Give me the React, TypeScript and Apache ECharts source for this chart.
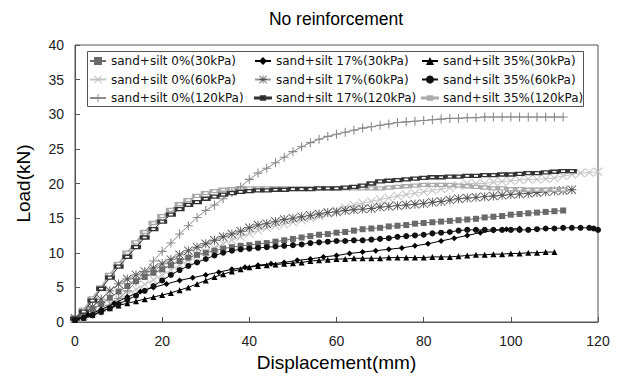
import React, { useEffect, useRef } from "react";
import * as echarts from "echarts";

type P = [number, number];

const seriesNames = [
  "sand+silt 0%(30kPa)",
  "sand+silt 17%(30kPa)",
  "sand+silt 35%(30kPa)",
  "sand+silt 0%(60kPa)",
  "sand+silt 17%(60kPa)",
  "sand+silt 35%(60kPa)",
  "sand+silt 0%(120kPa)",
  "sand+silt 17%(120kPa)",
  "sand+silt 35%(120kPa)",
];

const xTicks = [0, 20, 40, 60, 80, 100, 120];
const yTicks = [0, 5, 10, 15, 20, 25, 30, 35, 40];

const sand0_30: P[] = [[0,0.5],[2,1.0],[4,1.8],[6,2.6],[8,3.5],[10,4.4],[12,5.2],[14,5.9],[16,6.5],[18,7.1],[20,7.6],[22,8.2],[24,8.8],[26,9.3],[28,9.7],[30,10.0],[32,10.3],[34,10.6],[36,10.8],[38,11.0],[40,11.1],[42,11.3],[44,11.4],[46,11.6],[48,11.8],[50,12.0],[52,12.2],[54,12.4],[56,12.6],[58,12.7],[60,12.9],[62,13.0],[64,13.2],[66,13.4],[68,13.5],[70,13.6],[72,13.8],[74,13.9],[76,14.0],[78,14.2],[80,14.3],[82,14.4],[84,14.5],[86,14.6],[88,14.7],[90,14.8],[92,14.9],[94,15.1],[96,15.2],[98,15.3],[100,15.5],[102,15.6],[104,15.7],[106,15.8],[108,15.9],[110,16.0],[112,16.1]];

const sand17_30: P[] = [[0,0.3],[3,1.0],[6,1.8],[9,2.7],[12,3.6],[15,4.4],[18,5.0],[21,5.5],[24,6.0],[27,6.4],[30,6.8],[33,7.2],[36,7.6],[39,7.9],[42,8.2],[45,8.4],[48,8.6],[51,8.9],[54,9.1],[57,9.4],[60,9.6],[63,9.9],[66,10.1],[69,10.3],[72,10.5],[75,10.7],[78,11.0],[81,11.3],[84,11.7],[87,12.1],[90,12.5],[93,12.9],[96,13.2],[99,13.4],[102,13.5]];

const sand35_30: P[] = [[0,0.3],[2,0.6],[4,1.0],[6,1.5],[8,2.0],[10,2.4],[12,2.7],[14,3.0],[16,3.3],[18,3.6],[20,3.9],[22,4.2],[24,4.6],[26,5.0],[28,5.5],[30,6.0],[32,6.5],[34,6.9],[36,7.3],[38,7.6],[40,7.9],[42,8.1],[44,8.2],[46,8.3],[48,8.4],[50,8.5],[52,8.6],[54,8.8],[56,8.9],[58,9.0],[60,9.1],[62,9.1],[64,9.2],[66,9.2],[68,9.2],[70,9.2],[72,9.3],[74,9.3],[76,9.3],[78,9.3],[80,9.3],[82,9.4],[84,9.4],[86,9.4],[88,9.5],[90,9.6],[92,9.7],[94,9.7],[96,9.8],[98,9.8],[100,9.9],[102,9.9],[104,10.0],[106,10.0],[108,10.1],[110,10.1]];

const sand0_60: P[] = [[0,0.5],[2,0.9],[4,1.4],[6,2.0],[8,2.6],[10,3.3],[12,4.0],[14,4.7],[16,5.4],[18,6.1],[20,6.8],[22,7.5],[24,8.2],[26,8.9],[28,9.5],[30,10.1],[32,10.7],[34,11.3],[36,11.8],[38,12.3],[40,12.8],[42,13.2],[44,13.6],[46,13.9],[48,14.1],[50,14.4],[52,14.7],[54,15.0],[56,15.3],[58,15.7],[60,16.1],[62,16.5],[64,16.9],[66,17.2],[68,17.4],[70,17.7],[72,17.9],[74,18.2],[76,18.4],[78,18.6],[80,18.8],[82,19.0],[84,19.2],[86,19.4],[88,19.7],[90,20.0],[92,20.0],[94,20.0],[96,20.2],[98,20.3],[100,20.4],[102,20.5],[104,20.6],[106,20.6],[108,20.7],[110,20.8],[112,21.1],[114,21.3],[116,21.5],[118,21.6],[120,21.7]];

const sand17_60: P[] = [[0,0.5],[2,1.3],[4,2.2],[6,3.3],[8,4.5],[10,5.5],[12,6.2],[14,6.8],[16,7.3],[18,7.8],[20,8.4],[22,9.0],[24,9.7],[26,10.3],[28,10.8],[30,11.3],[32,11.8],[34,12.3],[36,12.7],[38,13.1],[40,13.6],[42,14.0],[44,14.2],[46,14.5],[48,14.8],[50,15.0],[52,15.2],[54,15.4],[56,15.6],[58,15.8],[60,15.9],[62,16.1],[64,16.2],[66,16.3],[68,16.4],[70,16.6],[72,16.7],[74,16.8],[76,16.9],[78,17.0],[80,17.1],[82,17.3],[84,17.4],[86,17.6],[88,17.8],[90,17.9],[92,18.0],[94,18.1],[96,18.2],[98,18.3],[100,18.4],[102,18.5],[104,18.6],[106,18.7],[108,18.8],[110,18.9],[112,19.0],[114,19.1]];

const sand35_60: P[] = [[0,0.3],[2,0.6],[4,1.0],[6,1.5],[8,2.0],[10,2.6],[12,3.2],[14,3.8],[16,4.5],[18,5.2],[20,6.0],[22,6.8],[24,7.5],[26,8.1],[28,8.6],[30,9.1],[32,9.6],[34,10.0],[36,10.3],[38,10.5],[40,10.6],[42,10.7],[44,10.8],[46,10.9],[48,11.0],[50,11.1],[52,11.2],[54,11.4],[56,11.5],[58,11.6],[60,11.7],[62,11.7],[64,11.8],[66,11.8],[68,11.9],[70,12.0],[72,12.1],[74,12.3],[76,12.4],[78,12.5],[80,12.6],[82,12.8],[84,12.9],[86,13.0],[88,13.2],[90,13.3],[92,13.3],[94,13.3],[96,13.3],[98,13.3],[100,13.3],[102,13.3],[104,13.3],[106,13.4],[108,13.5],[110,13.5],[112,13.6],[114,13.6],[116,13.6],[118,13.6],[119,13.5],[120,13.3]];

const sand0_120: P[] = [[0,0.5],[2,0.8],[4,1.1],[6,1.6],[8,2.4],[10,3.4],[12,4.5],[14,5.8],[16,7.2],[18,8.8],[20,10.2],[22,11.4],[24,12.7],[26,13.9],[28,15.1],[30,16.1],[32,16.9],[34,17.8],[36,18.7],[38,19.5],[40,20.6],[42,21.5],[44,22.2],[46,23.0],[48,23.8],[50,24.6],[52,25.3],[54,25.9],[56,26.4],[58,26.8],[60,27.1],[62,27.4],[64,27.7],[66,28.0],[68,28.2],[70,28.4],[72,28.6],[74,28.8],[76,28.9],[78,29.0],[80,29.1],[82,29.2],[84,29.3],[86,29.4],[88,29.4],[90,29.5],[92,29.5],[94,29.6],[96,29.6],[98,29.6],[100,29.6],[102,29.6],[104,29.6],[106,29.6],[108,29.6],[110,29.6],[112,29.6]];

const sand17_120: P[] = [[0,0.5],[2,1.5],[4,3.1],[6,4.8],[8,6.4],[10,8.0],[12,9.4],[14,10.8],[16,12.2],[18,13.4],[20,14.5],[22,15.5],[24,16.3],[26,16.9],[28,17.3],[30,17.8],[32,18.1],[34,18.4],[36,18.6],[38,18.8],[40,18.9],[42,19.0],[44,19.0],[46,19.1],[48,19.1],[50,19.2],[52,19.2],[54,19.2],[56,19.3],[58,19.3],[60,19.3],[62,19.4],[64,19.5],[66,19.7],[68,20.0],[70,20.3],[72,20.4],[74,20.5],[76,20.6],[78,20.7],[80,20.8],[82,20.9],[84,20.9],[86,21.0],[88,21.0],[90,21.1],[92,21.1],[94,21.2],[96,21.2],[98,21.3],[100,21.3],[102,21.4],[104,21.5],[106,21.5],[108,21.6],[110,21.7],[112,21.8],[114,21.8]];

const sand35_120: P[] = [[0,0.5],[2,1.8],[4,3.4],[6,5.0],[8,6.8],[10,8.4],[12,10.0],[14,11.5],[16,13.0],[18,14.3],[20,15.3],[22,16.2],[24,17.0],[26,17.6],[28,18.2],[30,18.6],[32,18.9],[34,19.1],[36,19.2],[38,19.3],[40,19.3],[42,19.3],[44,19.3],[46,19.3],[48,19.3],[50,19.3],[52,19.3],[54,19.3],[56,19.3],[58,19.3],[60,19.3],[62,19.3],[64,19.3],[66,19.3],[68,19.3],[70,19.3],[72,19.4],[74,19.5],[76,19.6],[78,19.7],[80,19.8],[82,19.8],[84,19.8],[86,19.8],[88,19.7],[90,19.6],[92,19.5],[94,19.4],[96,19.3],[98,19.3],[100,19.2],[102,19.2],[104,19.1],[106,19.1],[108,19.1],[110,19.1],[112,19.1]];

const PLUS = "path://M4.4,0H5.6V4.4H10V5.6H5.6V10H4.4V5.6H0V4.4H4.4Z";
const CROSS = "path://M0.85,0L5,4.15L9.15,0L10,0.85L5.85,5L10,9.15L9.15,10L5,5.85L0.85,10L0,9.15L4.15,5L0,0.85Z";
const STAR = "path://M4.5,0H5.5V10H4.5Z M0,4.5H10V5.5H0Z M0.7,0L10,9.3L9.3,10L0,0.7Z M9.3,0L10,0.7L0.7,10L0,9.3Z";
const DASH_ICON = "path://M0,4.4H6.5V3H11.5V4.4H18V5.6H11.5V7H6.5V5.6H0Z";

const FONT = "Liberation Sans";
const LEGEND_FONT = "DejaVu Sans";

export default function App() {
  const ref = useRef<HTMLDivElement>(null);
  useEffect(() => {
    document.body.style.margin = "0";
    const chart = echarts.init(ref.current!, null, { renderer: "svg" });
    const mk = (
      idx: number,
      data: P[],
      symbol: string,
      size: number | number[],
      color: string,
      lineColor: string,
      lineWidth: number,
      z: number,
      empty = false
    ) => ({
      type: "line",
      name: seriesNames[idx],
      data,
      symbol,
      symbolSize: size,
      showAllSymbol: true,
      z,
      itemStyle: empty
        ? { color, borderColor: color, borderWidth: 1 }
        : { color, borderWidth: 0 },
      lineStyle: { color: lineColor, width: lineWidth },
    });
    const legendBase = {
      orient: "vertical",
      top: 55,
      padding: 0,
      itemWidth: 16,
      itemHeight: 10,
      itemGap: 6.5,
      textStyle: { fontFamily: LEGEND_FONT, fontSize: 12, color: "#111" },
    };
    chart.setOption({
      animation: false,
      backgroundColor: "#fff",
      graphic: [
        {
          type: "text",
          x: 336,
          y: 19,
          style: {
            text: "No reinforcement",
            fontFamily: FONT,
            fontSize: 17.5,
            fill: "#000",
            align: "center",
            verticalAlign: "middle",
          },
        },
        {
          type: "rect",
          shape: { x: 87.5, y: 51.5, width: 496, height: 55 },
          style: { fill: "none", stroke: "#555", lineWidth: 1 },
          z: 10,
        },
      ],
      legend: [
        { ...legendBase, left: 89, data: [seriesNames[0], seriesNames[3], seriesNames[6]] },
        {
          ...legendBase,
          left: 254,
          data: [
            seriesNames[1],
            seriesNames[4],
            { name: seriesNames[7], icon: DASH_ICON, itemStyle: { color: "#222" } },
          ],
        },
        {
          ...legendBase,
          left: 421,
          data: [
            seriesNames[2],
            seriesNames[5],
            { name: seriesNames[8], icon: DASH_ICON, itemStyle: { color: "#aaa" } },
          ],
        },
      ],
      grid: {
        left: 75,
        right: 24,
        top: 45,
        bottom: 55,
        outerBoundsMode: "none",
        containLabel: false,
        show: true,
        borderColor: "#555",
        borderWidth: 1,
      },
      xAxis: {
        type: "value",
        min: xTicks[0],
        max: xTicks[xTicks.length - 1],
        interval: 20,
        name: "Displacement(mm)",
        nameLocation: "middle",
        nameGap: 28,
        nameTextStyle: { fontFamily: FONT, fontSize: 19, color: "#000" },
        axisLine: { lineStyle: { color: "#555" } },
        axisTick: { inside: true, length: 5, lineStyle: { color: "#555" } },
        axisLabel: { fontFamily: FONT, fontSize: 14, color: "#222", margin: 12 },
        splitLine: { show: false },
      },
      yAxis: {
        type: "value",
        min: yTicks[0],
        max: yTicks[yTicks.length - 1],
        interval: 5,
        name: "Load(kN)",
        nameLocation: "middle",
        nameGap: 42,
        nameTextStyle: { fontFamily: FONT, fontSize: 19, color: "#000" },
        axisLine: { lineStyle: { color: "#555" } },
        axisTick: { inside: true, length: 5, lineStyle: { color: "#555" } },
        axisLabel: { fontFamily: FONT, fontSize: 14, color: "#222", margin: 11 },
        splitLine: { show: false },
      },
      series: [
        mk(0, sand0_30, "rect", 6, "#6a6a6a", "#6a6a6a", 1, 5),
        mk(1, sand17_30, "diamond", 6, "#000", "#000", 1, 6),
        mk(2, sand35_30, "triangle", 6, "#000", "#000", 1, 6),
        mk(3, sand0_60, CROSS, 9, "#c4c4c4", "#c4c4c4", 1, 2),
        mk(4, sand17_60, STAR, 9, "#555", "#999", 1, 3),
        mk(5, sand35_60, "circle", 6, "#111", "#111", 1, 6),
        mk(6, sand0_120, PLUS, 9, "#8a8a8a", "#8a8a8a", 1, 4),
        mk(7, sand17_120, "emptyRect", [7, 3], "#333", "#333", 1, 5, true),
        mk(8, sand35_120, "emptyRect", [7, 3], "#aaa", "#aaa", 2, 3, true),
      ],
    });
    return () => chart.dispose();
  }, []);
  return (
    <div
      ref={ref}
      style={{ position: "absolute", left: 0, top: 0, width: 622, height: 377 }}
    />
  );
}
